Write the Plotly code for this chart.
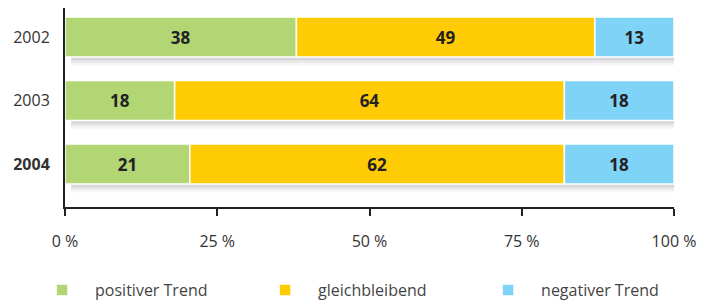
import plotly.graph_objects as go

years = ["2002", "2003", "2004"]
year_labels = ["2002", "2003", "<b>2004</b>"]
positiv = [38, 18, 20.5]
gleich = [49, 64, 61.5]
negativ = [13, 18, 18]
positiv_lbl = ["38", "18", "21"]
gleich_lbl = ["49", "64", "62"]
negativ_lbl = ["13", "18", "18"]
series_names = ["positiver Trend", "gleichbleibend", "negativer Trend"]
colors = ["#b3d675", "#ffcb05", "#7fd3f7"]
tick_vals = [0, 25, 50, 75, 100]
tick_text = ["0 %", "25 %", "50 %", "75 %", "100 %"]

FONT = "Open Sans, Lato, sans-serif"
BW = 0.63

fig = go.Figure()

totals = [a + b + c for a, b, c in zip(positiv, gleich, negativ)]
# soft drop shadow behind each bar
for k, (alpha, shift) in enumerate([(0.05, 0.13), (0.07, 0.09), (0.09, 0.05)]):
    fig.add_trace(go.Bar(
        y=years, x=totals, base=[1.0] * 3, orientation="h",
        width=BW, offset=-BW / 2 + shift,
        marker=dict(color=f"rgba(60,60,80,{alpha})", line=dict(width=0)),
        showlegend=False, hoverinfo="skip"))

bases = [0] * 3
for vals, lbls, name, col in zip([positiv, gleich, negativ],
                                 [positiv_lbl, gleich_lbl, negativ_lbl],
                                 series_names, colors):
    fig.add_trace(go.Bar(
        y=years, x=vals, base=list(bases), orientation="h", name=name,
        width=BW, offset=-BW / 2,
        marker=dict(color=col, line=dict(color="white", width=1.5)),
        text=lbls, texttemplate="<b>%{text}</b>", textposition="inside",
        insidetextanchor="middle", hoverinfo="skip",
        textfont=dict(family=FONT, size=17, color="#222222")))
    bases = [b + v for b, v in zip(bases, vals)]

fig.update_layout(
    width=702, height=301,
    margin=dict(l=65, r=28, t=8, b=94, autoexpand=False),
    barmode="overlay",
    plot_bgcolor="white", paper_bgcolor="white",
    font=dict(family=FONT, size=16, color="#333333"),
    xaxis=dict(range=[0, 100], tickvals=tick_vals, ticktext=tick_text,
               showline=True, linecolor="#222222", linewidth=2,
               ticks="outside", ticklen=7, tickwidth=2, tickcolor="#222222",
               showgrid=False, zeroline=False, ticklabelstandoff=12,
               automargin=False,
               tickfont=dict(size=16, color="#333333")),
    yaxis=dict(categoryorder="array", categoryarray=years,
               range=[2.677, -0.457], tickvals=years, ticktext=year_labels,
               showline=True, linecolor="#222222", linewidth=2,
               ticks="", showgrid=False, zeroline=False, ticklabelstandoff=10,
               automargin=False,
               tickfont=dict(size=16, color="#333333")),
    legend=dict(orientation="h", x=-0.059, xanchor="left", y=-0.417,
                yanchor="middle", entrywidth=152, itemwidth=56,
                font=dict(size=16, color="#444444"), traceorder="normal"),
    showlegend=True,
)

fig.write_html("out.html", config={"displayModeBar": False},
               post_script="document.body.style.margin='0px';document.body.style.overflow='hidden';")
